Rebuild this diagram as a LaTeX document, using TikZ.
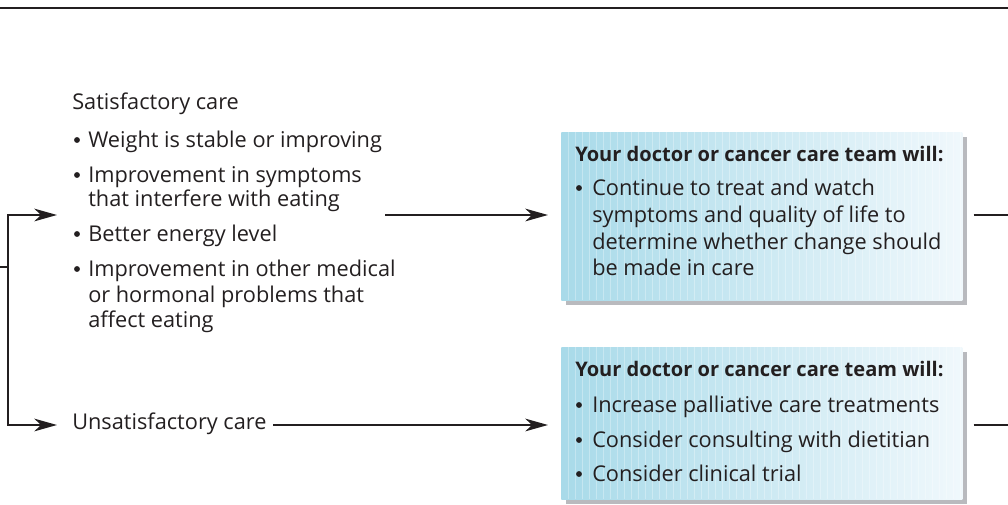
\documentclass[tikz,border=0pt]{standalone}
\usepackage{fontspec}
\setmainfont{Open Sans}
\usetikzlibrary{arrows.meta,shadows}
\definecolor{ink}{HTML}{231F20}
\definecolor{boxL}{HTML}{A8DAE9}
\definecolor{boxR}{HTML}{F0F8FC}
\definecolor{shade}{HTML}{B9BABE}
\begin{document}
\begin{tikzpicture}[x=0.75pt,y=-0.75pt,
  txt/.style={anchor=mid west, inner sep=0pt, text=ink, font=\fontsize{16.3pt}{19pt}\selectfont},
  ttl/.style={anchor=mid west, inner sep=0pt, text=ink, font=\fontsize{15.05pt}{19pt}\selectfont\bfseries},
  dot/.style={circle, fill=ink, inner sep=0pt, minimum size=4.4pt},
  conn/.style={draw=ink, line width=1.3pt},
  arr/.style={conn, -{Stealth[length=17pt,width=9.5pt,inset=5pt]}},
  cbox/.style={anchor=north west, inner sep=0pt, minimum width=300.75pt,
    left color=boxL, right color=boxR,
    drop shadow={shadow xshift=3.75pt, shadow yshift=-3.75pt, fill=shade, opacity=1},
    path picture={\foreach \i in {1,...,57}{\draw[white, opacity=.3, line width=.5pt]
      ([xshift=\i*5.25pt]path picture bounding box.north west) --
      ([xshift=\i*5.25pt]path picture bounding box.south west);}}}
]
\useasboundingbox (0,0) rectangle (1008,505);
% top rule
\coordinate (ruleL) at (0,8);
\coordinate (ruleR) at (1008,8);
\draw[draw=ink, line width=1.9pt] (ruleL) -- (ruleR);

% left text block
\node[txt] (sat) at (72,106) {Satisfactory care};
\node[dot] (b1) at (77,140) {};
\node[txt] (s1) at (88,144) {Weight is stable or improving};
\node[dot] (b2) at (77,175) {};
\node[txt] (s2a) at (88,179) {Improvement in symptoms};
\node[txt] (s2b) at (88,203) {that interfere with eating};
\node[dot] (b3) at (77,234) {};
\node[txt] (s3) at (88,238) {Better energy level};
\node[dot] (b4) at (77,269) {};
\node[txt] (s4a) at (88,273) {Improvement in other medical};
\node[txt] (s4b) at (88,299) {or hormonal problems that};
\node[txt] (s4c) at (88,324) {affect eating};
\node[txt] (uns) at (72,426) {Unsatisfactory care};

% boxes
\node[cbox, minimum height=126pt] (box1) at (561,132) {};
\node[cbox, minimum height=114pt] (box2) at (561,347) {};

\node[ttl] (t1) at (575,158) {Your doctor or cancer care team will:};
\node[dot] (c0) at (579,188) {};
\node[txt] (c1) at (592,192) {Continue to treat and watch};
\node[txt] (c2) at (592,219) {symptoms and quality of life to};
\node[txt] (c3) at (592,246) {determine whether change should};
\node[txt] (c4) at (592,272) {be made in care};

\node[ttl] (t2) at (575,373) {Your doctor or cancer care team will:};
\node[dot] (d0) at (579,405) {};
\node[txt] (d1) at (592,409) {Increase palliative care treatments};
\node[dot] (e0) at (579,440) {};
\node[txt] (d2) at (592,444) {Consider consulting with dietitian};
\node[dot] (f0) at (579,474) {};
\node[txt] (d3) at (592,478) {Consider clinical trial};

% connectors
\coordinate (start) at (0,267);
\coordinate (fork) at (8,267);
\coordinate (satIn) at (57,215);
\coordinate (unsIn) at (57,425);
\draw[conn] (start) -- (fork);
\draw[arr] (fork) |- (satIn);
\draw[arr] (fork) |- (unsIn);

\coordinate (a1) at (385,215);
\coordinate (a2) at (273,425);
\draw[arr] (a1) -- ([xshift=-9.75pt]box1.west |- a1);
\draw[arr] (a2) -- ([xshift=-9.75pt]box2.west |- a2);

\coordinate (out1) at (1008,215);
\coordinate (out2) at (1008,425);
\draw[conn] ([xshift=8.25pt]box1.east |- out1) -- (out1);
\draw[conn] ([xshift=8.25pt]box2.east |- out2) -- (out2);
\end{tikzpicture}
\end{document}
